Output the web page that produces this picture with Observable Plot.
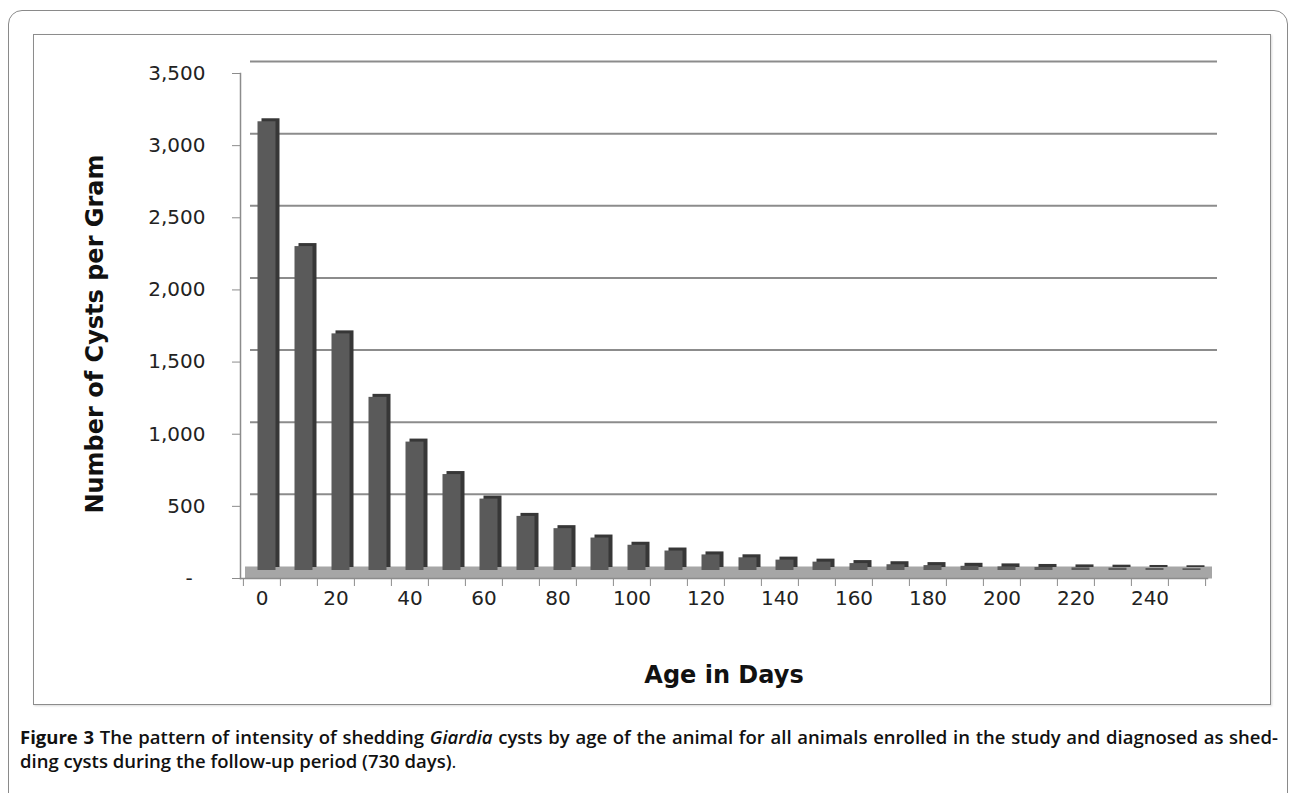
<!DOCTYPE html>
<html>
<head>
<meta charset="utf-8">
<script src="https://cdn.jsdelivr.net/npm/d3@7"></script>
<script src="https://cdn.jsdelivr.net/npm/@observablehq/plot@0.6"></script>
<style>
  html, body { margin: 0; padding: 0; background: #fff; }
  body { width: 1297px; height: 793px; position: relative; overflow: hidden; }
  .outer { position: absolute; left: 8px; top: 10px; width: 1280px; height: 800px;
           border: 1.5px solid #8a8a8a; border-radius: 14px; box-sizing: border-box; }
  .inner { position: absolute; left: 33px; top: 34px; width: 1238px; height: 671px;
           border: 1.5px solid #8c8c8c; box-sizing: border-box; background: #fff;
           box-shadow: 1px 1px 2px rgba(0,0,0,0.15); }
  #chart { position: absolute; left: 34px; top: 35px; }
  .cap { position: absolute; left: 20px; top: 725px; width: 1258px;
         font-family: "Open Sans", sans-serif; font-size: 18.5px; line-height: 24px;
         color: #111; font-weight: 600; letter-spacing: 0; }
  .cap .l1 { text-align: justify; text-align-last: justify; white-space: nowrap; }
  .cap b { font-weight: 700; }
</style>
</head>
<body>
<div class="outer"></div>
<div class="inner"></div>
<div id="chart"></div>
<div class="cap">
  <div class="l1"><b>Figure 3</b> The pattern of intensity of shedding <i>Giardia</i> cysts by age of the animal for all animals enrolled in the study and diagnosed as shed-</div>
  <div class="l2">ding cysts during the follow-up period (730 days)<span style="font-weight:400">.</span></div>
</div>
<script>
// ---- data ----
const ages = [0, 10, 20, 30, 40, 50, 60, 70, 80, 90, 100, 110, 120, 130, 140, 150, 160, 170, 180, 190, 200, 210, 220, 230, 240, 250];
const cysts = [3110, 2245, 1640, 1200, 890, 665, 495, 375, 290, 225, 175, 135, 108, 88, 72, 58, 48, 40, 34, 29, 25, 21, 18, 16, 14, 12];
const yTicks = [0, 500, 1000, 1500, 2000, 2500, 3000, 3500];
const xLabels = [0, 20, 40, 60, 80, 100, 120, 140, 160, 180, 200, 220, 240];
const xTitle = "Age in Days";
const yTitle = "Number of Cysts per Gram";

const data = ages.map((a, i) => ({age: a, cysts: cysts[i]}));

const W = 1236, H = 669, ML = 206, MR = 63, MT = 38, MB = 126;
const step = (W - ML - MR) / ages.length;
const fmt = v => v === 0 ? "-\u2007" : d3.format(",")(v);

const chart = Plot.plot({
  width: W, height: H,
  marginLeft: ML, marginRight: MR, marginTop: MT, marginBottom: MB,
  style: {fontFamily: "DejaVu Sans", fontSize: "20px", color: "#222", background: "transparent", overflow: "visible"},
  x: {type: "band", domain: ages, padding: 0, label: null},
  y: {domain: [0, 3500], label: null},
  marks: [
    Plot.ruleY(yTicks.filter(v => v > 0), {dx: 10, dy: -12, stroke: "#8c8c8c", strokeWidth: 2}),
    Plot.ruleY([0], {stroke: "#a6a6a6", strokeWidth: 12, dx: 5, dy: -6}),
    Plot.barY(data, {x: "age", y: "cysts", fill: "#373737", insetLeft: 9.5, insetRight: 9.5, dx: 9, dy: -11}),
    Plot.barY(data, {x: "age", y: "cysts", fill: "#5a5a5a", insetLeft: 9.5, insetRight: 9.5, dx: 5, dy: -8}),
    Plot.frame({anchor: "left", stroke: "#8c8c8c", strokeWidth: 1.5}),
    Plot.frame({anchor: "bottom", stroke: "#8c8c8c", strokeWidth: 1.5}),
    Plot.axisY({ticks: yTicks, tickSize: 8, tickPadding: 27, tickFormat: fmt, stroke: "#8c8c8c", label: null}),
    Plot.axisX({ticks: ages, tickSize: 8, tickFormat: () => "", dx: -step / 2, stroke: "#8c8c8c", label: null}),
    Plot.axisX({ticks: [ages[ages.length - 1]], tickSize: 8, tickFormat: () => "", dx: step / 2, stroke: "#8c8c8c", label: null}),
    Plot.axisX({ticks: xLabels, tickSize: 0, tickPadding: 12, label: null}),
    Plot.text([xTitle], {text: d => d, frameAnchor: "bottom", dy: 104, fontWeight: "bold", fontSize: 24, fill: "#111", textAnchor: "middle"}),
    Plot.text([yTitle], {text: d => d, frameAnchor: "left", dx: -145, dy: 8, rotate: -90, fontWeight: "bold", fontSize: 24, fill: "#111", textAnchor: "middle"})
  ]
});
document.getElementById("chart").appendChild(chart);
</script>
</body>
</html>
